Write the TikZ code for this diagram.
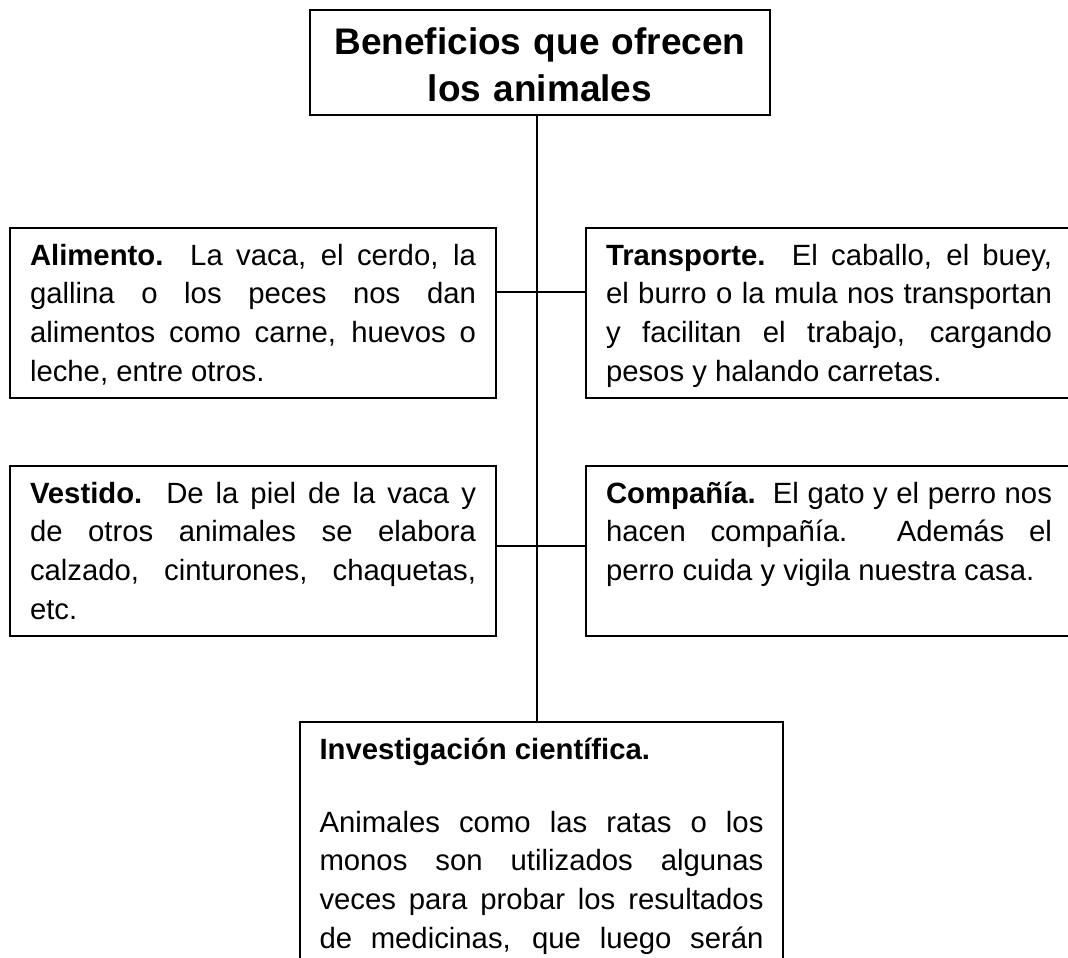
\documentclass[tikz,border=0pt]{standalone}
\usepackage{fontspec}
\setmainfont{Liberation Sans}
\usepackage{tikz}
\usetikzlibrary{positioning,calc}
\newcommand{\bodyfont}{\fontsize{29.3pt}{38.8pt}\selectfont}
\newcommand{\headfont}{\fontsize{37pt}{46.7pt}\selectfont\bfseries}
\tolerance=10000
\hbadness=10000
\hyphenpenalty=10000
\tikzset{
  infobox/.style={draw, line width=2.2pt, outer sep=0pt, anchor=north west,
    inner xsep=20pt, inner ysep=0pt, text width=446pt, align=justify,
    text height=37pt, text depth=133pt, font=\bodyfont},
  titlebox/.style={draw, line width=2.2pt, outer sep=0pt, anchor=north,
    inner xsep=10pt, inner ysep=0pt, text width=440pt, align=center,
    text height=45pt, text depth=60pt, font=\headfont},
  conn/.style={line width=1.4pt}
}

\begin{document}
\begin{tikzpicture}[x=1pt, y=-1pt]
    \useasboundingbox (0,0) rectangle (1068,958);
    \clip (0,0) rectangle (1068,958);
    \node[titlebox] (title) at (540,10) {Beneficios que ofrecen\\los animales};
    \node[infobox] (alim) at (10,228) {\textbf{Alimento.}\ \ La vaca, el cerdo, la\linebreak gallina o los peces nos dan\linebreak alimentos como carne, huevos o\linebreak leche, entre otros.};
    \node[infobox] (transp) at (586,228) {\textbf{Transporte.}\ \ El caballo, el buey,\linebreak el burro o la mula nos transportan\linebreak y facilitan el trabajo, cargando\linebreak pesos y halando carretas.};
    \node[infobox] (vest) at (10,466) {\textbf{Vestido.}\ \ De la piel de la vaca y\linebreak de otros animales se elabora\linebreak calzado, cinturones, chaquetas,\linebreak etc.};
    \node[infobox] (comp) at (586,466) {\textbf{Compañía.}\ \ El gato y el perro nos\linebreak hacen compañía.\ \ Además el\linebreak perro cuida y vigila nuestra casa.};
    \node[infobox, text width=444pt, inner xsep=19.5pt, text depth=260pt] (invest) at (300,722) {\textbf{Investigación científica.}\par\vspace{34.2pt}Animales como las ratas o los\linebreak monos son utilizados algunas\linebreak veces para probar los resultados\linebreak de medicinas, que luego serán{\parfillskip=0pt\par}};
    \coordinate (trunk) at (537,0);
    \coordinate (j1) at (537,292);
    \coordinate (j2) at (537,546);
    \draw[conn] (title.south -| trunk) -- (invest.north -| trunk);
    \draw[conn] (alim.east |- j1) -- (transp.west |- j1);
    \draw[conn] (vest.east |- j2) -- (comp.west |- j2);
\end{tikzpicture}
\end{document}
